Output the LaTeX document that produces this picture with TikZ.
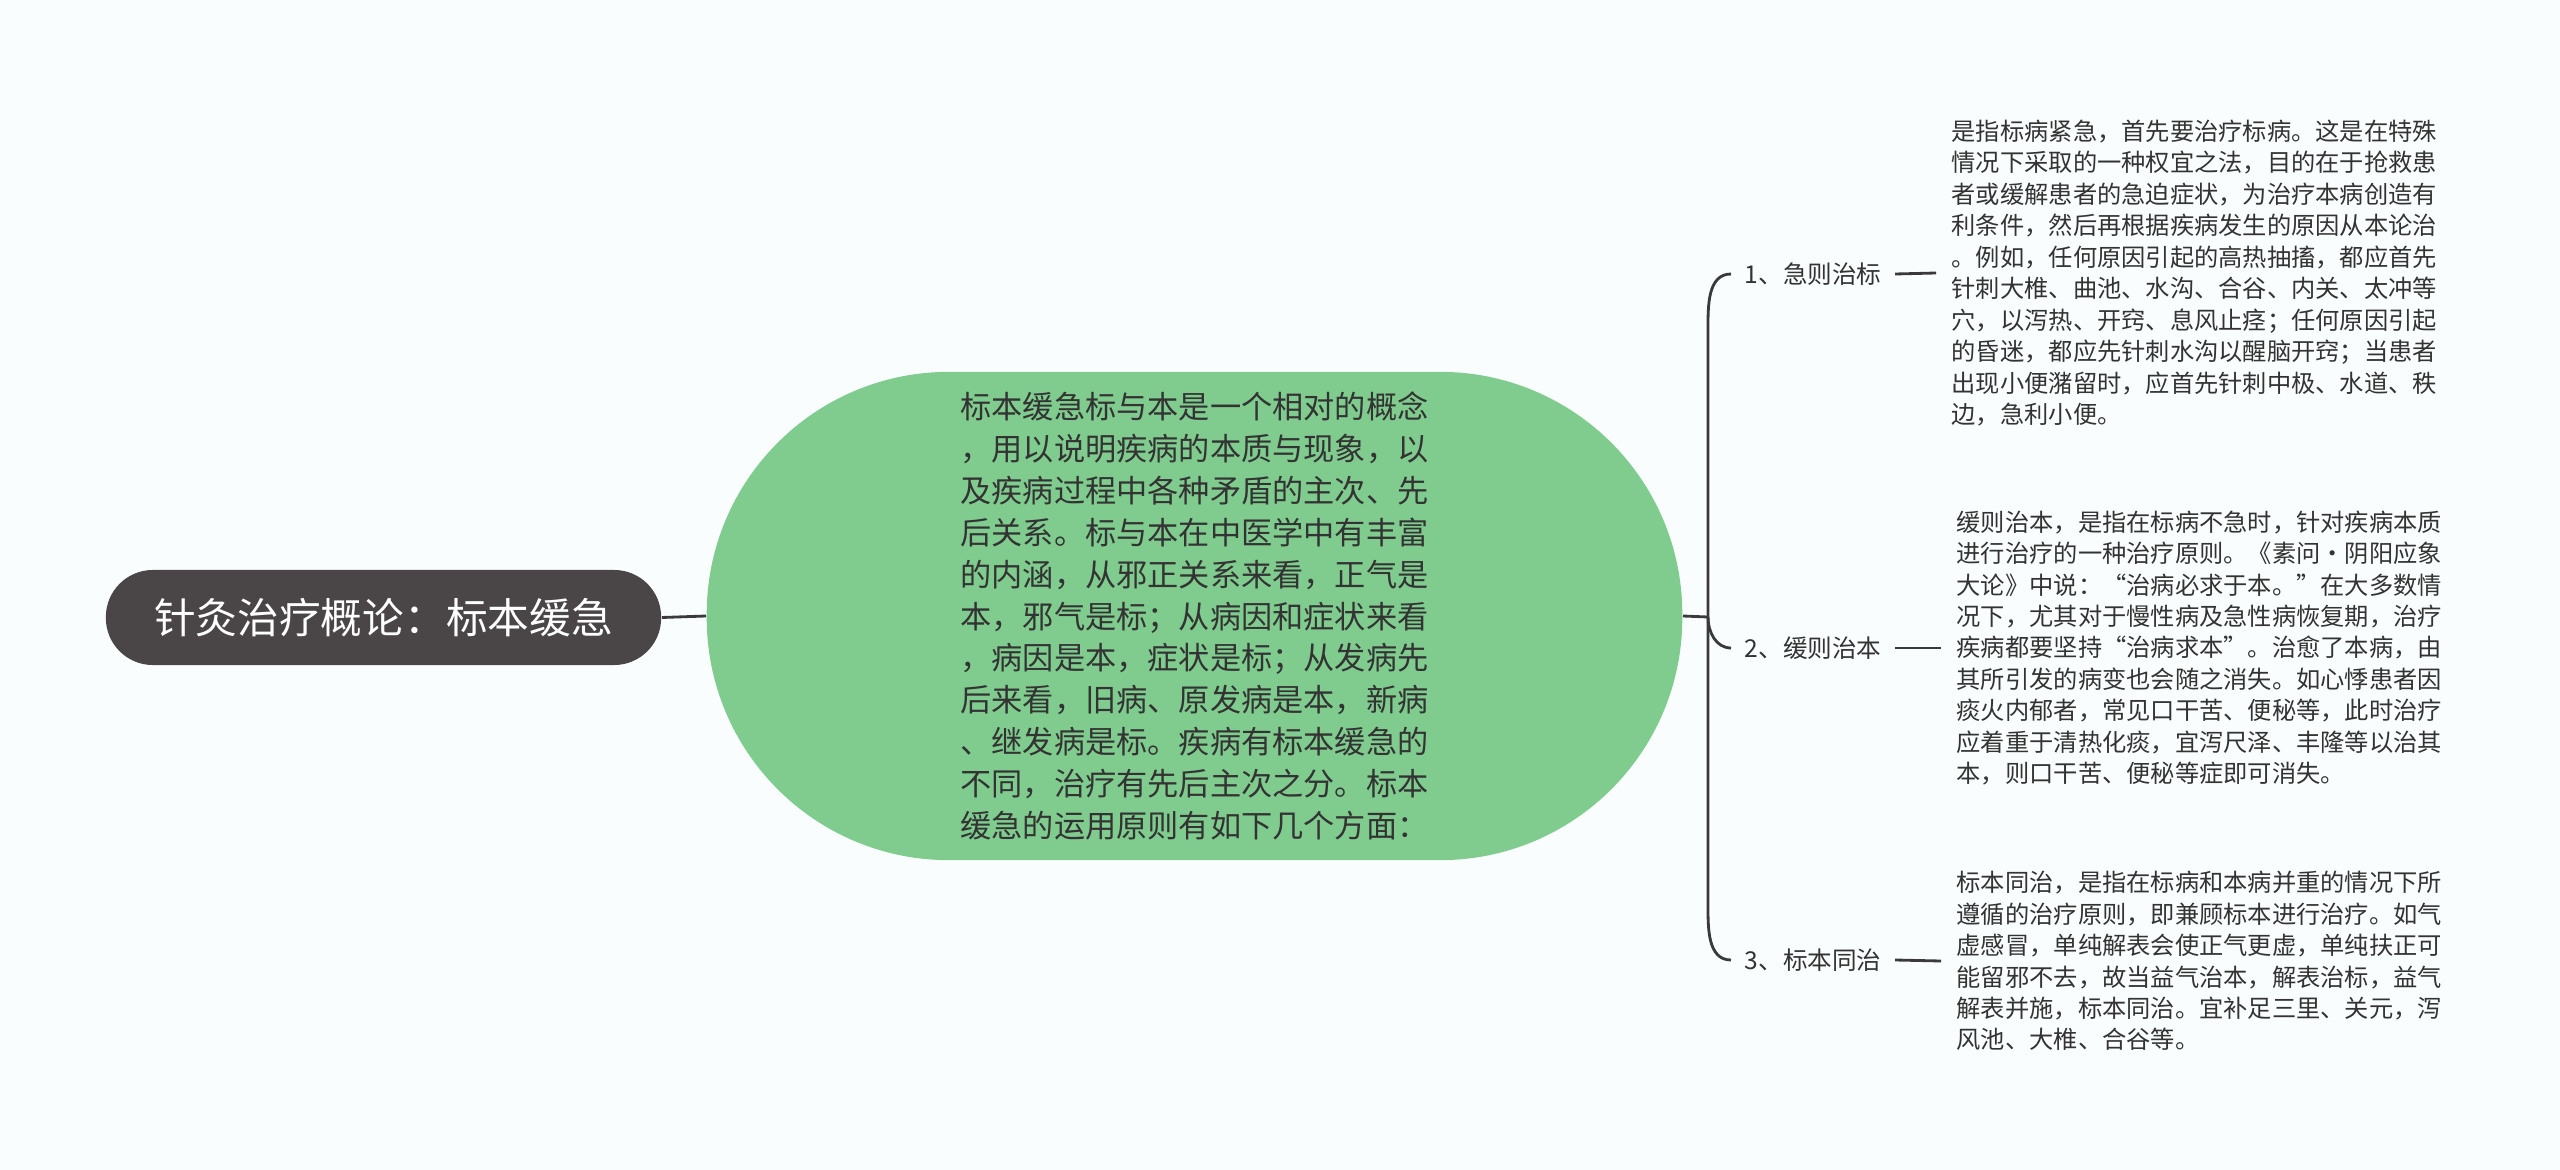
\documentclass[tikz,border=0pt]{standalone}
\usepackage{fontspec}
\setmainfont{Noto Sans CJK SC}
\usetikzlibrary{calc}
\definecolor{bgcol}{RGB}{250,253,254}
\definecolor{rootcol}{RGB}{74,69,70}
\definecolor{leafgreen}{RGB}{128,204,143}
\definecolor{inkcol}{RGB}{51,51,51}
\definecolor{wirecol}{RGB}{58,58,58}

\begin{document}
\begin{tikzpicture}[x=0.01cm,y=0.01cm]
  \fill[bgcol] (0,0) rectangle (2560,-1170);
  \begin{scope}[wire/.style={draw=wirecol,line width=0.8pt},
      rootbox/.style={fill=rootcol,text=white,minimum width=5.55cm,minimum height=0.95cm,
        inner sep=0cm,rounded corners=0.47cm,font=\fontsize{11.85}{14}\selectfont},
      topicbox/.style={fill=leafgreen,text=inkcol,minimum width=9.75cm,minimum height=4.88cm,
        inner sep=0cm,rounded corners=2.42cm,align=left,font=\fontsize{8.87}{11.9}\selectfont},
      branchlabel/.style={anchor=west,text=inkcol,inner sep=0.13cm,font=\fontsize{7}{9}\selectfont},
      notetext/.style={anchor=west,text=inkcol,inner sep=0.15cm,align=left,font=\fontsize{6.9}{8.95}\selectfont}]
    \node[rootbox] (root) at (383.5,-617.5) {针灸治疗概论：标本缓急};
    \node[topicbox] (topic) at (1194.5,-616) {标本缓急标与本是一个相对的概念\\，用以说明疾病的本质与现象，以\\及疾病过程中各种矛盾的主次、先\\后关系。标与本在中医学中有丰富\\的内涵，从邪正关系来看，正气是\\本，邪气是标；从病因和症状来看\\，病因是本，症状是标；从发病先\\后来看，旧病、原发病是本，新病\\、继发病是标。疾病有标本缓急的\\不同，治疗有先后主次之分。标本\\缓急的运用原则有如下几个方面：};
    \coordinate (hub) at (1708,-617);

    \node[branchlabel] (lab1) at (1731,-274) {1、急则治标};
    \node[branchlabel] (lab2) at (1731,-648) {2、缓则治本};
    \node[branchlabel] (lab3) at (1731,-960) {3、标本同治};

    \node[notetext] (note1) at (1936,-273) {是指标病紧急，首先要治疗标病。这是在特殊\\情况下采取的一种权宜之法，目的在于抢救患\\者或缓解患者的急迫症状，为治疗本病创造有\\利条件，然后再根据疾病发生的原因从本论治\\。例如，任何原因引起的高热抽搐，都应首先\\针刺大椎、曲池、水沟、合谷、内关、太冲等\\穴，以泻热、开窍、息风止痉；任何原因引起\\的昏迷，都应先针刺水沟以醒脑开窍；当患者\\出现小便潴留时，应首先针刺中极、水道、秩\\边，急利小便。};
    \node[notetext] (note2) at (1941,-648) {缓则治本，是指在标病不急时，针对疾病本质\\进行治疗的一种治疗原则。《素问·阴阳应象\\大论》中说：“治病必求于本。”在大多数情\\况下，尤其对于慢性病及急性病恢复期，治疗\\疾病都要坚持“治病求本”。治愈了本病，由\\其所引发的病变也会随之消失。如心悸患者因\\痰火内郁者，常见口干苦、便秘等，此时治疗\\应着重于清热化痰，宜泻尺泽、丰隆等以治其\\本，则口干苦、便秘等症即可消失。};
    \node[notetext] (note3) at (1941,-961) {标本同治，是指在标病和本病并重的情况下所\\遵循的治疗原则，即兼顾标本进行治疗。如气\\虚感冒，单纯解表会使正气更虚，单纯扶正可\\能留邪不去，故当益气治本，解表治标，益气\\解表并施，标本同治。宜补足三里、关元，泻\\风池、大椎、合谷等。};

    \draw[wire] (root.east) -- (topic.west);
    \draw[wire] (topic.east) -- (hub);
    \draw[wire] (hub) -- ($(hub |- lab1.west)+(0,-56)$) to[out=90,in=180] (lab1.west);
    \draw[wire] (hub) to[out=-90,in=180] (lab2.west);
    \draw[wire] (hub) -- ($(hub |- lab3.west)+(0,56)$) to[out=-90,in=180] (lab3.west);
    \draw[wire] (lab1.east) -- (note1.west);
    \draw[wire] (lab2.east) -- (note2.west);
    \draw[wire] (lab3.east) -- (note3.west);
  \end{scope}
\end{tikzpicture}
\end{document}
